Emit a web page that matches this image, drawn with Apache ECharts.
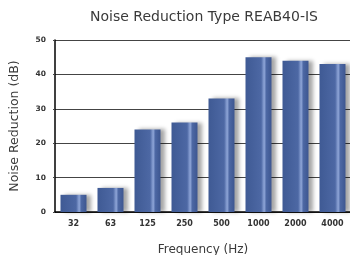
<!DOCTYPE html>
<html><head><meta charset="utf-8">
<script src="https://cdn.jsdelivr.net/npm/echarts@6/dist/echarts.min.js"></script>
<style>html,body{margin:0;padding:0;background:#fff}#c{width:350px;height:255px}</style>
</head><body><div id="c"></div>
<script>
const categories = ['32','63','125','250','500','1000','2000','4000'];
const values = [5, 7, 24, 26, 33, 45, 44, 43];
const yTicks = [0, 10, 20, 30, 40, 50];

const chart = echarts.init(document.getElementById('c'), null, {renderer:'canvas'});
const barColor = new echarts.graphic.LinearGradient(0,0,1,0,[
  {offset:0, color:'#3f5a94'},
  {offset:0.6, color:'#4d68a4'},
  {offset:0.72, color:'#8fa6d8'},
  {offset:0.8, color:'#4d68a4'},
  {offset:1, color:'#3d5690'}
]);
chart.setOption({
  animation:false,
  title:{text:'Noise Reduction Type REAB40-IS', left:199, textAlign:'center', top:5,
    textStyle:{fontFamily:'DejaVu Sans', fontSize:14, fontWeight:'normal', color:'#3a3a3a'}},
  grid:{left:55, right:-1, top:40, bottom:43, outerBoundsMode:'none', containLabel:false},
  xAxis:{type:'category', data:categories,
    axisLine:{lineStyle:{color:'#000', width:1.5}}, axisTick:{show:false},
    axisLabel:{fontFamily:'DejaVu Sans', fontSize:8, fontWeight:'bold', color:'#333', margin:8},
    name:'Frequency (Hz)', nameLocation:'middle', nameGap:32,
    nameTextStyle:{fontFamily:'DejaVu Sans', fontSize:12, color:'#3a3a3a'}},
  yAxis:{type:'value', min:0, max:50, interval:10,
    axisLine:{show:true, lineStyle:{color:'#000', width:1.5}},
    axisTick:{show:true, length:2, lineStyle:{color:'#444'}},
    splitLine:{lineStyle:{color:'#444', width:1}},
    axisLabel:{fontFamily:'DejaVu Sans', fontSize:7.5, fontWeight:'bold', color:'#333', margin:9,
      formatter:v=>yTicks.includes(v)?String(v):''},
    name:'Noise Reduction (dB)', nameLocation:'middle', nameGap:34,
    nameTextStyle:{fontFamily:'DejaVu Sans', fontSize:12.5, color:'#3a3a3a'}},
  series:[{type:'bar', data:values, barWidth:26,
    itemStyle:{color:barColor, shadowColor:'rgba(0,0,0,0.35)', shadowBlur:4, shadowOffsetX:4, shadowOffsetY:0}}]
});
</script></body></html>
